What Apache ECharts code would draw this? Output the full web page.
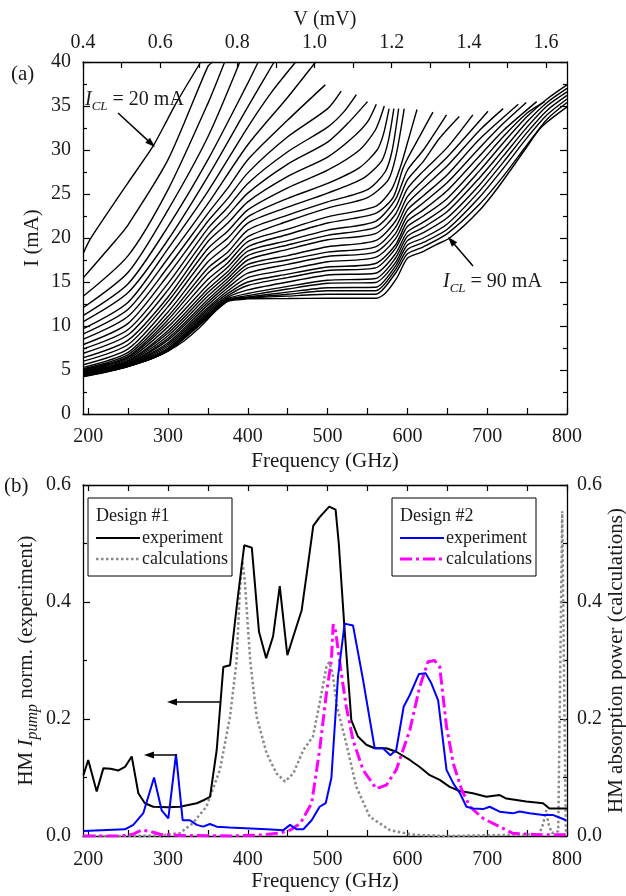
<!DOCTYPE html>
<html><head><meta charset="utf-8">
<script src="https://cdn.jsdelivr.net/npm/echarts@6/dist/echarts.min.js"></script>
<style>html,body{margin:0;padding:0;background:#fff}#c{width:626px;height:896px}</style>
</head><body><div id="c"></div>
<script>
// ---------- tick values ----------
const GHZ_PER_MV = 483.6;
const freqLabels = [200,300,400,500,600,700,800];
const freqTicks = [200,250,300,350,400,450,500,550,600,650,700,750,800];
const vLabels = [0.4,0.6,0.8,1.0,1.2,1.4,1.6];
const vTicks = [0.4,0.5,0.6,0.7,0.8,0.9,1.0,1.1,1.2,1.3,1.4,1.5,1.6];

// ---------- panel (a): I(f) curves, I_CL = 20 ... 90 mA ----------
const ic20=[[194,18.3],[202,19.8],[235,24.3],[250,26.3],[281,30.4],[300,33.6],[310,35.3],[341,40]];
const ic22=[[194,15.5],[235,19.8],[250,21.5],[300,28.9],[350,39.5],[356,40]];
const ic24=[[194,13.4],[250,18.0],[300,25.5],[350,35.3],[371,40]];
const ic26=[[194,12.1],[250,16.1],[300,23.2],[350,31.5],[390,40]];
const ic28=[[194,11.2],[250,14.8],[300,21.3],[350,28.9],[400,37.6],[413,40]];
const ic30=[[194,10.5],[250,13.8],[300,19.8],[350,27.0],[400,34.9],[433,40]];
const ic32=[[194,9.7],[250,12.7],[300,18.8],[350,25.3],[400,32.6],[430,36.6],[460,40]];
const ic34=[[194,9.1],[250,11.9],[300,17.7],[350,23.9],[400,30.6],[450,36.0],[485,40]];
const ic36=[[194,8.5],[250,11.1],[300,16.7],[350,22.8],[375,25.7],[400,28.9],[450,33.4],[497,37.4]];
const ic38=[[194,7.9],[250,10.3],[300,15.8],[350,21.9],[375,24.5],[400,27.4],[450,31.5],[500,34.7],[517,36.7]];
const ic40=[[194,7.4],[250,9.6],[300,14.85],[350,21.1],[375,23.5],[400,26.2],[450,29.8],[500,32.6],[520,34.3],[536,36.3]];
const ic42=[[194,6.9],[250,9.0],[300,14.1],[350,20.3],[375,22.6],[400,25.1],[450,28.4],[500,30.9],[525,33.0],[550,35.5]];
const ic44=[[194,6.4],[250,8.4],[300,13.3],[350,19.6],[375,21.7],[400,24.1],[450,27.0],[500,29.2],[530,31.3],[550,33.2],[561,35.2]];
const ic46=[[194,6.0],[250,7.9],[300,12.8],[350,18.8],[375,20.8],[400,23.2],[450,25.7],[500,27.7],[540,30.0],[560,32.3],[571,35.0]];
const ic48=[[194,5.6],[250,7.4],[300,12.2],[350,18.1],[375,20.0],[400,22.4],[450,24.5],[500,26.2],[540,28.0],[562,30.0],[570,31.8],[577,34.7]];
const ic50=[[194,5.3],[250,7.0],[300,11.6],[350,17.3],[375,19.2],[400,21.7],[450,23.5],[500,25.1],[545,26.8],[568,28.8],[576,31.0],[583,34.7]];
const ic52=[[194,5.15],[250,6.75],[300,11.1],[350,16.6],[375,18.4],[400,20.9],[450,22.6],[500,24.1],[550,25.5],[572,27.5],[581,30.0],[589,34.7]];
const ic54=[[194,5.05],[250,6.55],[300,10.7],[350,16.0],[375,17.8],[400,20.15],[450,21.9],[500,23.4],[550,24.6],[576,26.6],[586,29.5],[596,34.7]];
const ic56=[[194,4.95],[250,6.4],[300,10.3],[350,15.3],[375,17.2],[400,19.6],[450,21.0],[500,22.4],[560,23.6],[580,25.5],[592,28.3],[600,30.8],[612,34.6]];
const ic58=[[194,4.9],[250,6.25],[300,9.9],[350,14.7],[375,16.7],[400,19.0],[450,20.4],[500,21.7],[560,22.8],[582,24.6],[594,27.8],[600,29.0],[615,31.5],[632,34.3]];
const ic60=[[194,4.85],[250,6.1],[300,9.5],[350,14.2],[375,16.2],[400,18.5],[450,19.7],[500,20.9],[560,21.9],[585,24.4],[600,27.7],[620,30.0],[649,34.0]];
const ic62=[[194,4.8],[250,6.0],[300,9.2],[350,13.8],[375,15.8],[400,18.0],[450,19.2],[500,20.3],[560,21.2],[585,23.5],[600,26.6],[620,28.7],[640,31.3],[665,33.8]];
const ic64=[[194,4.75],[250,5.9],[300,8.9],[350,13.4],[375,15.4],[400,17.5],[450,18.7],[500,19.8],[560,20.5],[585,22.7],[600,25.6],[620,27.6],[650,30.3],[682,34.0]];
const ic66=[[194,4.7],[250,5.8],[300,8.6],[350,13.0],[375,15.05],[400,17.0],[450,18.0],[500,19.0],[560,19.7],[585,21.9],[600,24.7],[620,26.6],[650,29.2],[701,34.4]];
const ic68=[[194,4.65],[250,5.75],[300,8.4],[350,12.7],[375,14.7],[400,16.6],[450,17.5],[500,18.4],[560,19.0],[585,21.2],[600,23.9],[620,25.7],[650,28.2],[690,32.2],[720,34.7]];
const ic70=[[194,4.6],[250,5.7],[300,8.1],[350,12.4],[375,14.35],[400,16.0],[450,17.0],[500,17.9],[560,18.4],[585,20.5],[600,23.2],[620,24.8],[650,27.2],[690,31.2],[739,35.2]];
const ic72=[[194,4.55],[250,5.65],[300,7.9],[350,12.1],[375,14.0],[400,15.5],[450,16.4],[500,17.3],[560,17.8],[585,19.9],[600,22.5],[620,24.0],[650,26.3],[690,30.2],[720,33.0],[749,35.4]];
const ic74=[[194,4.5],[250,5.6],[300,7.7],[350,11.9],[375,13.7],[400,15.0],[450,15.9],[500,16.7],[560,17.1],[585,19.2],[600,21.9],[620,23.2],[650,25.4],[690,29.3],[720,32.2],[762,35.5]];
const ic76=[[194,4.47],[250,5.55],[300,7.5],[350,11.7],[375,13.45],[400,14.6],[450,15.5],[500,16.3],[560,16.6],[585,18.8],[600,21.3],[620,22.5],[650,24.5],[690,28.4],[720,31.5],[750,34.2],[772,35.5]];
const ic78=[[194,4.44],[250,5.5],[300,7.4],[350,11.5],[375,13.25],[400,14.1],[450,15.0],[500,15.8],[560,16.0],[585,18.2],[600,20.7],[620,21.8],[650,23.7],[690,27.6],[720,30.8],[750,33.8],[775,35.8],[800,37.4]];
const ic80=[[194,4.4],[250,5.47],[300,7.3],[350,11.35],[375,13.1],[400,13.7],[450,14.5],[500,15.2],[560,15.4],[585,17.7],[600,20.2],[620,21.2],[650,23.0],[690,26.8],[720,30.0],[750,33.2],[775,35.4],[800,37.0]];
const ic82=[[194,4.37],[250,5.45],[300,7.25],[350,11.2],[375,13.0],[400,13.45],[450,14.2],[500,14.85],[560,14.95],[585,17.2],[600,19.7],[620,20.6],[650,22.3],[690,26.0],[720,29.3],[750,32.6],[775,35.0],[800,36.6]];
const ic84=[[194,4.34],[250,5.43],[300,7.2],[350,11.1],[375,12.95],[400,13.3],[450,13.85],[500,14.35],[560,14.4],[585,16.8],[600,19.2],[620,20.0],[650,21.6],[690,25.3],[720,28.6],[750,32.0],[775,34.5],[800,36.2]];
const ic86=[[194,4.3],[250,5.42],[300,7.2],[350,11.0],[375,12.9],[400,13.2],[450,13.6],[500,14.0],[560,14.0],[585,16.4],[600,18.7],[620,19.5],[650,21.0],[690,24.6],[720,27.9],[750,31.4],[775,34.0],[800,35.8]];
const ic88=[[194,4.27],[250,5.41],[300,7.18],[350,10.9],[375,12.85],[400,13.15],[450,13.4],[500,13.6],[560,13.6],[585,16.0],[600,18.2],[620,19.0],[650,20.5],[690,23.8],[720,27.0],[750,30.6],[775,33.5],[800,35.4]];
const ic90=[[194,4.25],[220,4.7],[250,5.4],[280,6.3],[300,7.15],[320,8.3],[340,9.85],[350,10.8],[360,11.75],[375,12.8],[390,13.0],[400,13.1],[450,13.12],[500,13.15],[561,13.15],[572,13.7],[587,15.5],[600,17.7],[618,18.4],[635,19.2],[653,20.0],[689,23.0],[714,25.8],[747,30.0],[768,32.6],[800,34.9]];
const icCurves=[ic20,ic22,ic24,ic26,ic28,ic30,ic32,ic34,ic36,ic38,ic40,ic42,ic44,ic46,ic48,ic50,ic52,ic54,ic56,ic58,ic60,ic62,ic64,ic66,ic68,ic70,ic72,ic74,ic76,ic78,ic80,ic82,ic84,ic86,ic88,ic90];
const icValues=[20,22,24,26,28,30,32,34,36,38,40,42,44,46,48,50,52,54,56,58,60,62,64,66,68,70,72,74,76,78,80,82,84,86,88,90];

// ---------- panel (b) ----------
const d1Experiment=[[194,0.104],[200,0.13],[210.6,0.076],[219,0.116],[228,0.115],[238,0.112],[246,0.118],[254.5,0.136],[262.8,0.073],[271,0.056],[281.5,0.05],[300,0.049],[315,0.05],[336,0.056],[346,0.062],[352.6,0.067],[361,0.147],[369.3,0.289],[377.7,0.292],[387,0.403],[395.5,0.497],[405,0.493],[414,0.349],[423,0.304],[431.6,0.341],[440,0.427],[449.5,0.309],[457,0.341],[467.5,0.386],[476,0.47],[482,0.53],[490,0.545],[502,0.563],[510,0.558],[514,0.5],[521,0.358],[529.7,0.198],[538,0.17],[548.5,0.156],[559,0.15],[573.6,0.15],[586,0.144],[603,0.13],[615.4,0.118],[628,0.104],[640.5,0.096],[653,0.084],[665.5,0.077],[682,0.073],[699,0.067],[715.6,0.07],[724,0.064],[749,0.059],[770,0.056],[778,0.047],[800,0.047]];
const d1Calculation=[[194,0.0],[250,0.0],[290,0.001],[315,0.005],[331,0.022],[348,0.05],[365,0.113],[377.7,0.204],[386,0.30],[390,0.42],[393,0.47],[396,0.44],[400,0.36],[403,0.30],[411,0.204],[423.6,0.141],[436,0.107],[446.6,0.093],[457,0.107],[469.6,0.147],[481.6,0.17],[490,0.227],[498.6,0.29],[502,0.297],[506,0.28],[512,0.22],[523.4,0.158],[536,0.084],[552.8,0.033],[578,0.01],[608,0.002],[650,0.0],[765,0.003],[770,0.02],[774,0.044],[777,0.02],[781,0.005],[789,0.008],[794,0.555],[798.5,0.01],[800,0.005]];
const d2Experiment=[[194,0.0085],[246,0.0115],[256.5,0.019],[269,0.039],[282.5,0.10],[292,0.044],[300.4,0.030],[310,0.14],[318.3,0.027],[327.5,0.027],[336,0.019],[344,0.016],[352.5,0.0205],[361,0.016],[377,0.0145],[423.6,0.0115],[444.5,0.010],[453,0.019],[461,0.0115],[469.6,0.0115],[480,0.027],[490,0.05],[497.6,0.056],[504.7,0.099],[513,0.272],[521.3,0.363],[531.8,0.36],[544.4,0.267],[559,0.15],[569.4,0.15],[578.6,0.138],[586,0.147],[595.3,0.221],[603,0.241],[614.5,0.277],[623,0.278],[630,0.261],[638.5,0.232],[649,0.113],[657.5,0.09],[665.8,0.073],[674,0.05],[682.5,0.047],[695,0.046],[703,0.05],[715.6,0.0416],[732,0.0387],[740.7,0.042],[753,0.039],[770,0.036],[782,0.036],[799,0.027]];
const d2Calculation=[[194,0.0],[240,0.0],[256,0.003],[267,0.01],[277,0.008],[290,0.003],[315,0.001],[380,0.0],[420,0.002],[440,0.005],[453,0.01],[466,0.022],[480,0.056],[490,0.147],[498.5,0.244],[504.7,0.30],[507,0.362],[510,0.35],[513,0.32],[518,0.27],[523.4,0.221],[531.8,0.164],[544.4,0.113],[561,0.081],[573.6,0.087],[586,0.113],[603,0.181],[615.4,0.255],[625.8,0.298],[634,0.30],[640.5,0.289],[649,0.187],[657.5,0.124],[668,0.079],[678.5,0.05],[695,0.030],[715.6,0.016],[732,0.0046],[765,0.002],[800,0.002]];

// ---------- styling ----------
const F='Liberation Serif';
const TXT='#1a1a1a';
const fMin=0.4*GHZ_PER_MV, fMax=800;
const axLine={lineStyle:{color:'#000',width:1.3}};
const LBL=20, NAME=21;

function freqAxis(grid,pos,showLabel,name,gap,margin){
  return {type:'value',gridIndex:grid,position:pos,min:fMin,max:fMax,
    axisLine:Object.assign({onZero:false},axLine),
    axisTick:{inside:true,length:6,customValues:freqTicks,lineStyle:{color:'#000',width:1.2}},
    axisLabel:{show:showLabel,customValues:freqLabels,fontFamily:F,fontSize:LBL,color:TXT,margin:margin||13},
    splitLine:{show:false},
    name:name,nameLocation:'middle',nameGap:gap,nameMoveOverlap:false,nameTextStyle:{fontFamily:F,fontSize:NAME,color:TXT}};
}
function valAxis(grid,pos,min,max,interval,showLabel,fmt,name,gap,nameStyle,margin){
  return {type:'value',gridIndex:grid,position:pos,min:min,max:max,interval:interval,
    axisLine:Object.assign({onZero:false},axLine),
    axisTick:{inside:true,length:7,lineStyle:{color:'#000',width:1.2}},
    minorTick:{show:true,splitNumber:2,length:4,lineStyle:{color:'#000',width:1.2}},
    axisLabel:{show:showLabel,formatter:fmt,fontFamily:F,fontSize:LBL,color:TXT,margin:margin||12},
    splitLine:{show:false},minorSplitLine:{show:false},
    name:name,nameLocation:'middle',nameGap:gap,nameRotate:90,nameMoveOverlap:false,
    nameTextStyle:nameStyle||{fontFamily:F,fontSize:NAME,color:TXT}};
}

const series=[];
icCurves.forEach((d,i)=>{
  series.push({name:'I_CL = '+icValues[i]+' mA',type:'line',xAxisIndex:0,yAxisIndex:0,data:d,
    showSymbol:false,symbol:'none',smooth:0.25,lineStyle:{color:'#000',width:1.4},silent:true,z:2});
});
series.push({name:'Design #1 experiment',type:'line',xAxisIndex:2,yAxisIndex:2,data:d1Experiment,showSymbol:false,symbol:'none',lineStyle:{color:'#000',width:2},z:3});
series.push({name:'Design #1 calculations',type:'line',xAxisIndex:2,yAxisIndex:3,data:d1Calculation,showSymbol:false,symbol:'none',lineStyle:{color:'#8a8a8a',width:2.5,type:[2.5,2.5]},z:2});
series.push({name:'Design #2 experiment',type:'line',xAxisIndex:2,yAxisIndex:2,data:d2Experiment,showSymbol:false,symbol:'none',lineStyle:{color:'#0000ff',width:2},z:4});
series.push({name:'Design #2 calculations',type:'line',xAxisIndex:2,yAxisIndex:3,data:d2Calculation,showSymbol:false,symbol:'none',lineStyle:{color:'#ff00ff',width:3,type:[12,4,3,4]},z:3});

function arrow(x1,y1,x2,y2){
  const dx=x2-x1, dy=y2-y1, L=Math.hypot(dx,dy), ux=dx/L, uy=dy/L;
  const bx=x2-ux*10, by=y2-uy*10, px=-uy*3.5, py=ux*3.5;
  return [
    {type:'line',z:100,shape:{x1:x1,y1:y1,x2:bx+ux*2,y2:by+uy*2},style:{stroke:'#000',lineWidth:1.5}},
    {type:'polygon',z:100,shape:{points:[[x2,y2],[bx+px,by+py],[bx-px,by-py]]},style:{fill:'#000'}}
  ];
}
function txt(x,y,text,size){
  return {type:'text',z:100,x:x,y:y,style:{text:text,fontFamily:F,fontSize:size||18,fill:TXT,verticalAlign:'middle'}};
}
function icLabel(x,y,val){
  return {type:'text',z:100,x:x,y:y,style:{text:'{i|I}{s|CL}{n| = '+val+' mA}',verticalAlign:'middle',fill:TXT,
    rich:{i:{fontFamily:F,fontSize:20,fontStyle:'italic',fill:TXT},
          s:{fontFamily:F,fontSize:13,fontStyle:'italic',fill:TXT,padding:[14,0,0,0]},
          n:{fontFamily:F,fontSize:20,fill:TXT}}}};
}
function legendBox(x,y,title,c1,t1,c2,t2){
  return [
    {type:'rect',z:100,shape:{x:x,y:y,width:144,height:78},style:{fill:'#fff',stroke:'#000',lineWidth:1}},
    txt(x+8,y+18,title,18),
    {type:'line',z:101,shape:{x1:x+8,y1:y+40,x2:x+52,y2:y+40},style:c1},
    txt(x+54,y+40,t1,18),
    {type:'line',z:101,shape:{x1:x+8,y1:y+61,x2:x+52,y2:y+61},style:c2},
    txt(x+54,y+61,t2,18)
  ];
}

const graphic=[].concat(
  txt(11,74,'(a)',21),
  txt(4,486,'(b)',21),
  icLabel(85,100,20),
  icLabel(443,282,90),
  arrow(118,113,155,147),
  arrow(473,266,448,237),
  arrow(220,702,167,702),
  arrow(177,755,144,755),
  legendBox(88,498,'Design #1',{stroke:'#000',lineWidth:2},'experiment',{stroke:'#8a8a8a',lineWidth:2.5,lineDash:[2.5,2.5]},'calculations'),
  legendBox(392,498,'Design #2',{stroke:'#0000ff',lineWidth:2},'experiment',{stroke:'#ff00ff',lineWidth:3,lineDash:[12,4,3,4]},'calculations')
);

const chart=echarts.init(document.getElementById('c'),null,{renderer:'canvas'});
chart.setOption({
  animation:false,
  backgroundColor:'#fff',
  grid:[
    {left:83,right:59,top:62,height:352,containLabel:false,outerBoundsMode:'none'},
    {left:83,right:59,top:485,height:351,containLabel:false,outerBoundsMode:'none'}
  ],
  xAxis:[
    freqAxis(0,'bottom',true,'Frequency (GHz)',37,13),
    {type:'value',gridIndex:0,position:'top',min:0.4,max:fMax/GHZ_PER_MV,
      axisLine:Object.assign({onZero:false},axLine),
      axisTick:{inside:true,length:6,customValues:vTicks,lineStyle:{color:'#000',width:1.2}},
      axisLabel:{customValues:vLabels,formatter:v=>v.toFixed(1),fontFamily:F,fontSize:LBL,color:TXT,margin:9},
      splitLine:{show:false},
      name:'V (mV)',nameLocation:'middle',nameGap:32,nameMoveOverlap:false,nameTextStyle:{fontFamily:F,fontSize:20,color:TXT}},
    freqAxis(1,'bottom',true,'Frequency (GHz)',35,14),
    freqAxis(1,'top',false,'',0)
  ],
  yAxis:[
    valAxis(0,'left',0,40,5,true,null,'I (mA)',40),
    valAxis(0,'right',0,40,5,false,null,'',0),
    valAxis(1,'left',0,0.6,0.2,true,v=>v.toFixed(1),'{a|HM }{i|I}{s|pump}{a| norm. (experiment)}',42,
      {fontFamily:F,fontSize:NAME,color:TXT,rich:{
        a:{fontFamily:F,fontSize:NAME,color:TXT},
        i:{fontFamily:F,fontSize:NAME,fontStyle:'italic',color:TXT},
        s:{fontFamily:F,fontSize:16,fontStyle:'italic',color:TXT,padding:[13,0,0,0]}}}),
    valAxis(1,'right',0,0.6,0.2,true,v=>v.toFixed(1),'HM absorption power (calculations)',39,null,10)
  ],
  series:series,
  graphic:graphic
});
</script></body></html>
